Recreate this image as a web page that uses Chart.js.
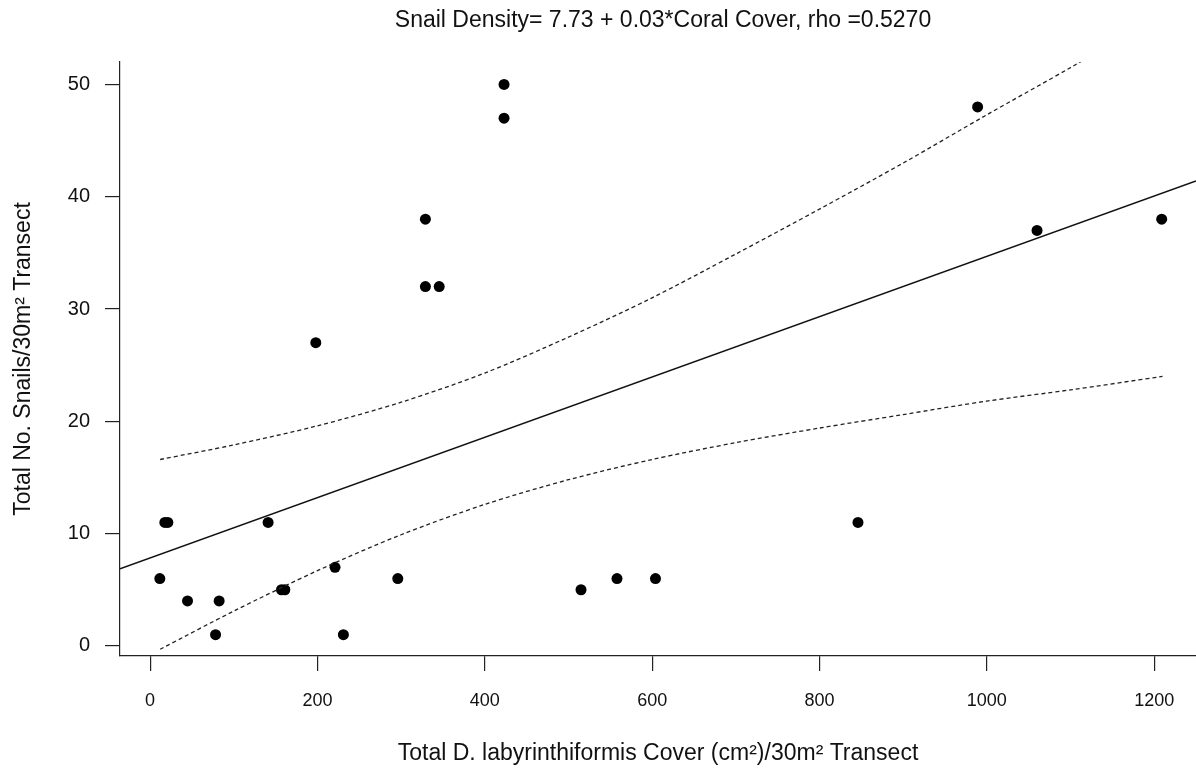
<!DOCTYPE html>
<html>
<head>
<meta charset="utf-8">
<script src="https://cdn.jsdelivr.net/npm/chart.js@4/dist/chart.umd.min.js"></script>
<style>
  html, body { margin: 0; padding: 0; background: #fff; }
  #wrap { width: 1196px; height: 771px; }
</style>
</head>
<body>
<div id="wrap"><canvas id="chart" width="1196" height="771"></canvas></div>
<script>
// transect observations: coral cover vs snail count
const coverX = [11.6, 17.6, 21.2, 44.7, 78.2, 82.5, 141, 157, 161, 198, 221, 231, 296,
  329, 329, 345.5, 423, 423, 515, 558, 604, 846, 989, 1060, 1209];
const snailY = [6, 11, 11, 4, 1, 4, 11, 5, 5, 27, 7, 1, 6,
  38, 32, 32, 50, 47, 5, 6, 6, 11, 48, 37, 38];

// fitted line, read at the plot edges
const fitX = [-36, 1250];
const fitY = [6.86, 41.4];

// 95% confidence band
const bandX = [12, 100, 200, 300, 400, 500, 600, 700, 800, 900, 1000, 1100, 1210];
const bandLow = [-0.3, 3.1, 6.7, 9.9, 12.6, 14.8, 16.6, 18.1, 19.4, 20.6, 21.8, 22.8, 24.0];
const bandHigh = [16.6, 17.9, 19.6, 21.7, 24.3, 27.5, 31.0, 34.9, 38.9, 43.0, 47.3, 51.5, 56.3];

const xTicks = [0, 200, 400, 600, 800, 1000, 1200];
const yTicks = [0, 10, 20, 30, 40, 50];

const titleText = "Snail Density= 7.73 + 0.03*Coral Cover, rho =0.5270";
const FONT = "Arial, 'Liberation Sans', sans-serif";

const pairs = (xs, ys) => xs.map((x, i) => ({ x: x, y: ys[i] }));

// title centred over the full plot region (R style)
const topTitle = {
  id: "topTitle",
  afterDraw(chart) {
    const ctx = chart.ctx;
    ctx.save();
    ctx.font = "23px " + FONT;
    ctx.fillStyle = "#111";
    ctx.textAlign = "center";
    ctx.textBaseline = "middle";
    ctx.fillText(titleText, 663, 21);
    ctx.restore();
  }
};

const bandStyle = {
  showLine: true,
  borderColor: "#222",
  borderWidth: 1.3,
  borderDash: [4, 3],
  pointRadius: 0,
  tension: 0.3,
  fill: false
};

new Chart(document.getElementById("chart"), {
  type: "scatter",
  data: {
    datasets: [
      Object.assign({ data: pairs(bandX, bandHigh) }, bandStyle),
      Object.assign({ data: pairs(bandX, bandLow) }, bandStyle),
      {
        data: pairs(fitX, fitY),
        showLine: true,
        borderColor: "#111",
        borderWidth: 1.5,
        pointRadius: 0
      },
      {
        data: pairs(coverX, snailY),
        backgroundColor: "#000",
        borderWidth: 0,
        pointRadius: 5.5
      }
    ]
  },
  options: {
    responsive: false,
    animation: false,
    layout: { autoPadding: false, padding: { top: 62, right: 0, left: 0, bottom: 0 } },
    plugins: {
      legend: { display: false },
      tooltip: { enabled: false }
    },
    scales: {
      x: {
        type: "linear",
        min: -36,
        max: 1250,
        afterBuildTicks: (s) => { s.ticks = xTicks.map(v => ({ value: v })); },
        afterFit: (s) => { s.height = 115; s.paddingRight = 0; s.paddingLeft = 0; },
        border: { display: true, color: "#222", width: 1.2 },
        grid: { drawOnChartArea: false, drawTicks: true, tickLength: 15, color: "#222", lineWidth: 1.2 },
        ticks: {
          color: "#111",
          padding: 19,
          font: { family: FONT, size: 18 },
          callback: (v) => String(v)
        },
        title: {
          display: true,
          text: "Total D. labyrinthiformis Cover (cm\u00b2)/30m\u00b2 Transect",
          color: "#111",
          font: { family: FONT, size: 23 },
          padding: { top: 0, bottom: 4 }
        }
      },
      y: {
        type: "linear",
        min: -0.9,
        max: 52,
        afterBuildTicks: (s) => { s.ticks = yTicks.map(v => ({ value: v })); },
        afterFit: (s) => { s.width = 120; s.paddingTop = 0; s.paddingBottom = 0; },
        border: { display: true, color: "#222", width: 1.2 },
        grid: { drawOnChartArea: false, drawTicks: true, tickLength: 15, color: "#222", lineWidth: 1.2 },
        ticks: { color: "#111", padding: 15, font: { family: FONT, size: 20 } },
        title: {
          display: true,
          text: "Total No. Snails/30m\u00b2 Transect",
          color: "#111",
          font: { family: FONT, size: 23 },
          padding: { top: 10, bottom: 0 }
        }
      }
    }
  },
  plugins: [topTitle]
});
</script>
</body>
</html>
